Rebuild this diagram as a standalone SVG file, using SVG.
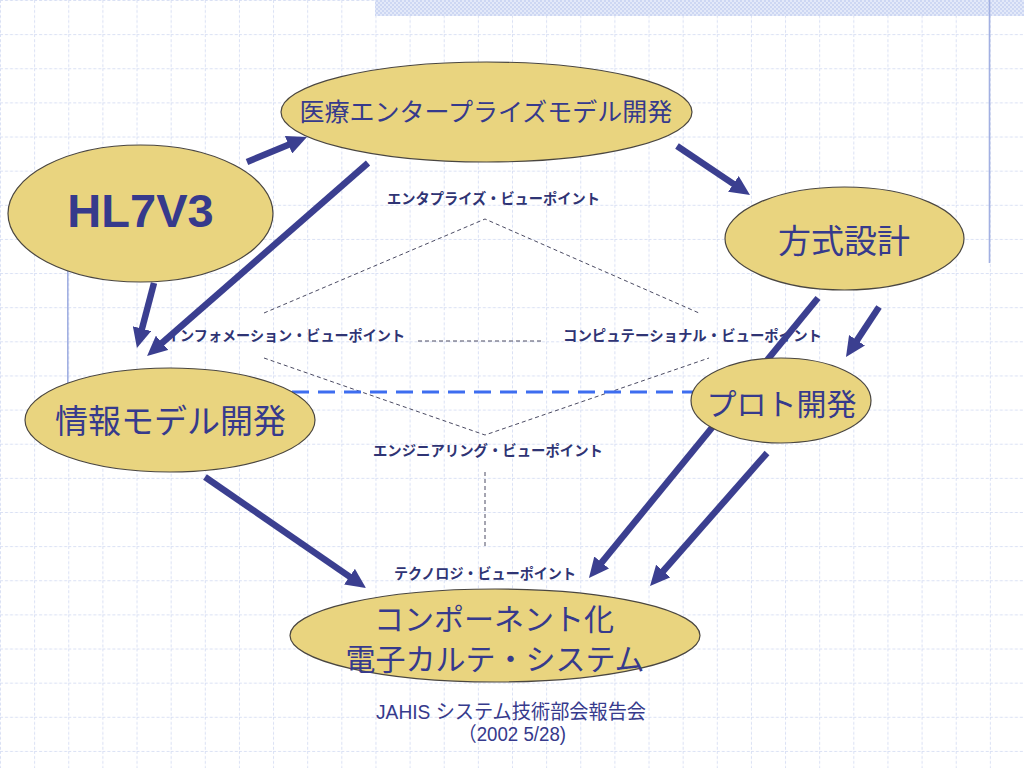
<svg xmlns="http://www.w3.org/2000/svg" width="1024" height="768" viewBox="0 0 1024 768">
<style>
.node{fill:#e9d47f;stroke:#4a4640;stroke-width:1.2}
.big{font-family:"Noto Sans CJK JP","Noto Sans",sans-serif;fill:#363a8c;text-anchor:middle}
.vp{font-family:"Noto Sans CJK JP","Noto Sans",sans-serif;font-size:14.5px;font-weight:bold;fill:#2f3474}
.thin{fill:none;stroke:#4b4b63;stroke-width:1;stroke-dasharray:4 3}
.arrow{fill:none;stroke:#3b3f90;stroke-width:6.5;marker-end:url(#head)}
.foot{font-family:"Liberation Sans","Noto Sans CJK JP",sans-serif;font-size:20px;fill:#363a8c}
</style>
<defs>
<pattern id="grid" patternUnits="userSpaceOnUse" width="34.133" height="34.133">
<path d="M0,0.5 H34.133 M0.5,0 V34.133" fill="none" stroke="#d9e0f4" stroke-width="1" stroke-dasharray="3 2"/>
</pattern>
<pattern id="hatch" patternUnits="userSpaceOnUse" width="4" height="4">
<rect width="4" height="4" fill="#e3e9f9"/>
<rect width="2" height="2" fill="#cdd7f3"/>
<rect x="2" y="2" width="2" height="2" fill="#cdd7f3"/>
</pattern>
<marker id="head" markerUnits="userSpaceOnUse" markerWidth="20" markerHeight="19" refX="4" refY="9.5" orient="auto" viewBox="0 0 20 19">
<path d="M0,0 L20,9.5 L0,19 z" fill="#3b3f90"/>
</marker>
</defs>

<g id="background">
<rect width="1024" height="768" fill="#ffffff"/>
<rect width="1024" height="768" fill="url(#grid)"/>
<rect x="375" y="0" width="649" height="16" fill="url(#hatch)"/>
<line x1="989.5" y1="0" x2="989.5" y2="263" stroke="#a2b0e2" stroke-width="1.6"/>
<line x1="67.8" y1="262" x2="67.8" y2="395" stroke="#a2b0e2" stroke-width="1.6"/>
</g>

<g id="viewpoints">
<path class="thin" d="M264,313 L485,219 L699,313"/>
<path class="thin" d="M264,358 L485,435 L709,358"/>
<path class="thin" d="M418,341 H544"/>
<path class="thin" d="M485,472 V547"/>
<text class="vp" x="387" y="204" textLength="213" lengthAdjust="spacingAndGlyphs">エンタプライズ・ビューポイント</text>
<text class="vp" x="166" y="341" textLength="239" lengthAdjust="spacingAndGlyphs">インフォメーション・ビューポイント</text>
<text class="vp" x="563" y="341" textLength="259" lengthAdjust="spacingAndGlyphs">コンピュテーショナル・ビューポイント</text>
<text class="vp" x="373" y="456" textLength="230" lengthAdjust="spacingAndGlyphs">エンジニアリング・ビューポイント</text>
<text class="vp" x="394" y="579" textLength="182" lengthAdjust="spacingAndGlyphs">テクノロジ・ビューポイント</text>
</g>

<g id="connectors">
<line x1="292" y1="392" x2="693" y2="392" stroke="#3d6df0" stroke-width="3.2" stroke-dasharray="17 9"/>
<line class="arrow" x1="247" y1="162" x2="292.2" y2="143.2"/>
<line class="arrow" x1="677" y1="146" x2="736.7" y2="186.1"/>
<line class="arrow" x1="368" y1="163" x2="159.1" y2="345.5"/>
<line class="arrow" x1="154" y1="283" x2="141" y2="332.5"/>
<line class="arrow" x1="879" y1="307" x2="854.8" y2="343.6"/>
<line class="arrow" x1="818" y1="298" x2="599.1" y2="565.6"/>
<line class="arrow" x1="767" y1="453" x2="660.6" y2="574"/>
<line class="arrow" x1="205" y1="477" x2="352.8" y2="578.9"/>
</g>

<g id="node-iryo">
<ellipse class="node" cx="486.5" cy="112" rx="205.5" ry="50"/>
<text class="big" x="486" y="121" font-size="25">医療エンタープライズモデル開発</text>
</g>

<g id="node-hl7v3">
<ellipse class="node" cx="140.5" cy="213.5" rx="132.5" ry="68.5"/>
<text x="140.5" y="227" font-family="Liberation Sans, Arial, sans-serif" font-size="47" font-weight="bold" fill="#363a8c" text-anchor="middle">HL7V3</text>
</g>

<g id="node-houshiki">
<ellipse class="node" cx="844.5" cy="238.5" rx="119.5" ry="51.5"/>
<text class="big" x="844" y="253" font-size="33">方式設計</text>
</g>

<g id="node-joho">
<ellipse class="node" cx="170" cy="420" rx="145" ry="52"/>
<text class="big" x="170.5" y="433" font-size="33">情報モデル開発</text>
</g>

<g id="node-proto">
<ellipse class="node" cx="781" cy="400.5" rx="90" ry="42.5"/>
<text class="big" x="781.5" y="415" font-size="30">プロト開発</text>
</g>

<g id="node-component">
<ellipse class="node" cx="495" cy="635.5" rx="205" ry="46.5"/>
<text class="big" x="494" y="630" font-size="30">コンポーネント化</text>
<text class="big" x="495" y="670" font-size="30">電子カルテ・システム</text>
</g>

<g id="footer">
<text class="foot" x="376" y="719" textLength="270" lengthAdjust="spacingAndGlyphs">JAHIS システム技術部会報告会</text>
<text class="foot" x="458" y="741" textLength="108" lengthAdjust="spacingAndGlyphs">（2002 5/28)</text>
</g>
</svg>
